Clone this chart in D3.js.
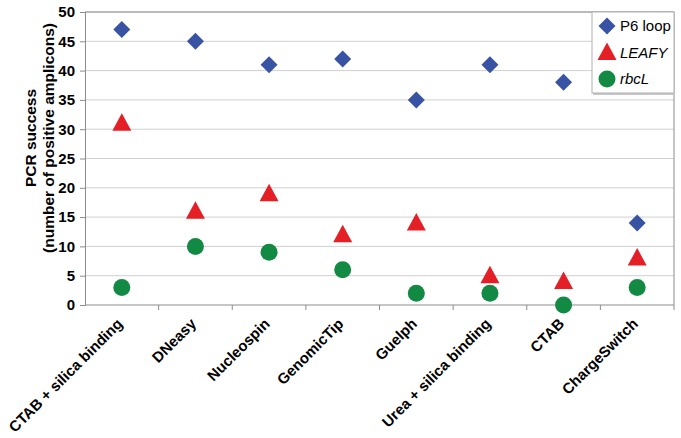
<!DOCTYPE html>
<html>
<head>
  <meta charset="utf8">
  <style type="text/css">
    body { margin: 0; background: #fff; font-family: "Liberation Sans", Arial, sans-serif; }
    .grid line { stroke: #d0d0d0; }
    .axis path, .axis line { stroke: #8c8c8c; }
    .axis text { font-size: 15px; font-weight: bold; fill: #000; }
  </style>
</head>
<body>
<script src="https://d3js.org/d3.v7.min.js"></script>
<script type="text/javascript">
var methods = ['CTAB + silica binding', 'DNeasy', 'Nucleospin', 'GenomicTip',
  'Guelph', 'Urea + silica binding', 'CTAB', 'ChargeSwitch'];
var p6loop = [47, 45, 41, 42, 35, 41, 38, 14];
var leafy = [31, 16, 19, 12, 14, 5, 4, 8];
var rbcl = [3, 10, 9, 6, 2, 2, 0, 3];
var yTicks = [0, 5, 10, 15, 20, 25, 30, 35, 40, 45, 50];

var width = 681, height = 438;
var margin = {left: 85, right: 7, top: 12, bottom: 133};

// marker shapes
var diamond = 'M0,-8.5L8.5,0L0,8.5L-8.5,0Z';
var triangle = 'M0,-10L9.5,7.5L-9.5,7.5Z';
var circle = d3.symbol().type(d3.symbolCircle).size(Math.PI * 8.5 * 8.5)();

var series = [
  {name: 'P6 loop', values: p6loop, path: diamond, color: '#3953a4', italic: false},
  {name: 'LEAFY', values: leafy, path: triangle, color: '#e41f26', italic: true},
  {name: 'rbcL', values: rbcl, path: circle, color: '#138a44', italic: true}
];

var svg = d3.select('body').append('svg')
  .attr('width', width)
  .attr('height', height);

var x = d3.scaleBand()
  .domain(methods)
  .range([margin.left, width - margin.right]);

var y = d3.scaleLinear()
  .domain([0, 50])
  .range([height - margin.bottom, margin.top]);

// gridlines
svg.append('g')
  .attr('class', 'grid')
  .selectAll('line')
  .data(yTicks.slice(1))
  .enter().append('line')
  .attr('x1', margin.left)
  .attr('x2', width - margin.right)
  .attr('y1', function(d) { return y(d); })
  .attr('y2', function(d) { return y(d); });

// plot frame top/right
svg.append('path')
  .attr('d', 'M' + margin.left + ',' + y(50) + 'H' + (width - margin.right) + 'V' + y(0))
  .style('fill', 'none')
  .style('stroke', '#8c8c8c');

// y axis
svg.append('g')
  .attr('class', 'axis')
  .attr('transform', 'translate(' + margin.left + ',0)')
  .call(d3.axisLeft(y).tickValues(yTicks).tickSizeOuter(0).tickSize(5).tickPadding(5));

// x axis: ticks between categories
var xAxisG = svg.append('g')
  .attr('class', 'axis')
  .attr('transform', 'translate(0,' + y(0) + ')');

xAxisG.append('line')
  .attr('x1', margin.left).attr('x2', width - margin.right);

xAxisG.selectAll('.tick')
  .data(methods)
  .enter().append('line')
  .attr('x1', function(d) { return x(d) + x.bandwidth(); })
  .attr('x2', function(d) { return x(d) + x.bandwidth(); })
  .attr('y1', 0).attr('y2', 5);

xAxisG.selectAll('text')
  .data(methods)
  .enter().append('text')
  .attr('transform', function(d) {
    return 'translate(' + (x(d) + x.bandwidth() / 2 - 2) + ',16) rotate(-45)';
  })
  .attr('text-anchor', 'end')
  .attr('dy', '0.35em')
  .text(function(d) { return d; });

// y axis title
var title = svg.append('text')
  .attr('transform', 'translate(41,138) rotate(-90)')
  .attr('text-anchor', 'middle')
  .style('font-size', '15.5px')
  .style('font-weight', 'bold');
title.append('tspan').attr('x', 0).attr('dy', '-0.3em').text('PCR success');
title.append('tspan').attr('x', 0).attr('dy', '1.15em').text('(number of positive amplicons)');

// points
series.forEach(function(s) {
  svg.append('g')
    .selectAll('path')
    .data(s.values)
    .enter().append('path')
    .attr('d', s.path)
    .attr('transform', function(d, i) {
      return 'translate(' + (x(methods[i]) + x.bandwidth() / 2) + ',' + y(d) + ')';
    })
    .style('fill', s.color);
});

// legend
var lg = svg.append('g').attr('transform', 'translate(592,' + margin.top + ')');
lg.append('rect')
  .attr('x', 1).attr('y', 1)
  .attr('width', 82).attr('height', 82)
  .style('fill', '#c8c8c8');
lg.append('rect')
  .attr('width', 82).attr('height', 81)
  .style('fill', '#fff')
  .style('stroke', '#b0b0b0');
series.forEach(function(s, i) {
  var row = lg.append('g').attr('transform', 'translate(15,' + (14 + i * 26.5) + ')');
  row.append('path')
    .attr('d', s.path)
    .style('fill', s.color);
  row.append('text')
    .attr('x', 13)
    .attr('dy', '0.35em')
    .style('font-size', '15px')
    .style('font-style', s.italic ? 'italic' : 'normal')
    .text(s.name);
});
</script>
</body>
</html>
